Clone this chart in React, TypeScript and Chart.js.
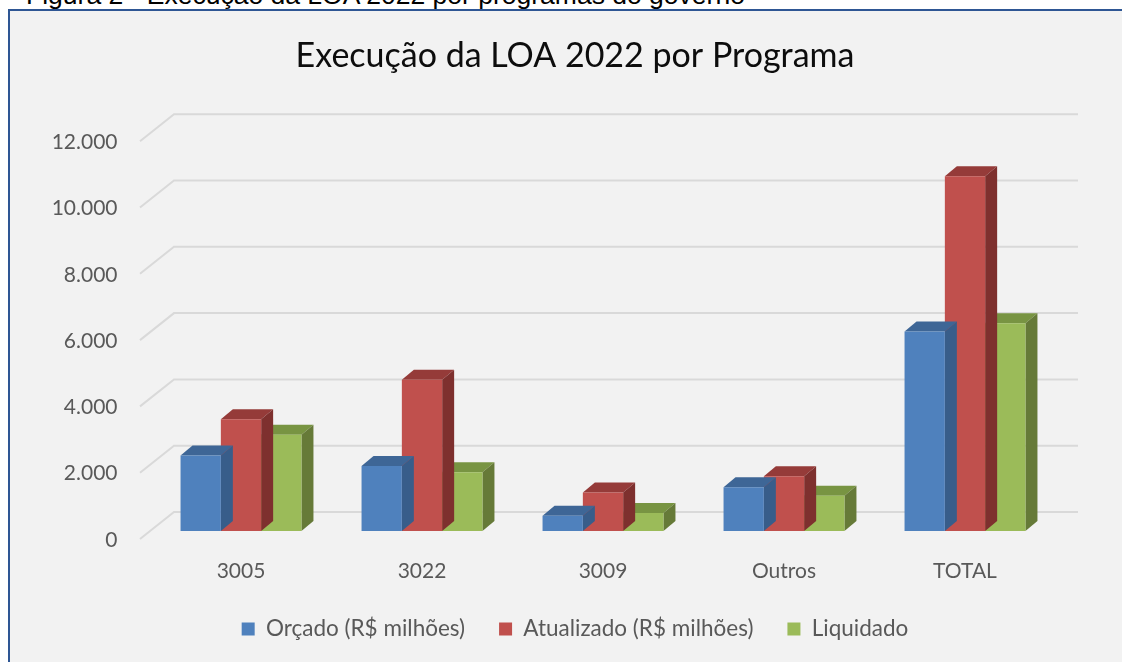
import React, { useEffect, useRef } from 'react';
import { Chart, registerables } from 'chart.js';

Chart.register(...registerables);

const categories = ['3005', '3022', '3009', 'Outros', 'TOTAL'];
const orcado = [2280, 1960, 460, 1320, 6020];
const atualizado = [3370, 4560, 1160, 1650, 10700];
const liquidado = [2900, 1770, 540, 1060, 6270];
const seriesNames = ['Orçado (R$ milhões)', 'Atualizado (R$ milhões)', 'Liquidado'];
const yTicks = [0, 2000, 4000, 6000, 8000, 10000, 12000];

const frontColors = ['#4F81BD', '#C0504D', '#9BBB59'];
const topColors = ['#3E6696', '#953B39', '#789442'];
const sideColors = ['#385D8A', '#7E302E', '#667A38'];

const DX = 12;
const DY = 10;

const fmt = (v: number) => String(v).replace(/\B(?=(\d{3})+(?!\d))/g, '.');

const threeD = {
  id: 'threeD',
  beforeDatasetsDraw(chart: any) {
    const { ctx, chartArea, scales } = chart;
    const y = scales.y;
    ctx.save();
    ctx.strokeStyle = '#D9D9D9';
    ctx.lineWidth = 2;
    for (const v of yTicks) {
      const py = y.getPixelForValue(v);
      ctx.beginPath();
      ctx.moveTo(chartArea.left - 10.5, py + 8);
      ctx.lineTo(chartArea.left + 23.5, py - 19);
      ctx.lineTo(chartArea.right + 22.5, py - 19);
      ctx.stroke();
    }
    ctx.restore();
  },
  beforeDatasetDraw(chart: any, args: any) {
    const i = args.index;
    const meta = chart.getDatasetMeta(i);
    const ctx = chart.ctx;
    ctx.save();
    meta.data.forEach((bar: any) => {
      const { x, y, base, width } = bar.getProps(['x', 'y', 'base', 'width'], true);
      const l = x - width / 2;
      const r = x + width / 2;
      ctx.fillStyle = topColors[i];
      ctx.beginPath();
      ctx.moveTo(l, y);
      ctx.lineTo(l + DX, y - DY);
      ctx.lineTo(r + DX, y - DY);
      ctx.lineTo(r, y);
      ctx.closePath();
      ctx.fill();
      ctx.fillStyle = sideColors[i];
      ctx.beginPath();
      ctx.moveTo(r, y);
      ctx.lineTo(r + DX, y - DY);
      ctx.lineTo(r + DX, base - DY);
      ctx.lineTo(r, base);
      ctx.closePath();
      ctx.fill();
    });
    ctx.restore();
  },
};

export default function App() {
  const ref = useRef<HTMLCanvasElement>(null);
  useEffect(() => {
    const font = { family: 'Lato', size: 21 };
    const chart = new Chart(ref.current as HTMLCanvasElement, {
      type: 'bar',
      data: {
        labels: categories,
        datasets: [orcado, atualizado, liquidado].map((d, i) => ({
          label: seriesNames[i],
          data: d,
          backgroundColor: frontColors[i],
          borderWidth: 0,
          categoryPercentage: 0.668,
          barPercentage: 1,
          yAxisID: 'y',
        })),
      },
      options: {
        responsive: false,
        animation: false,
        devicePixelRatio: 1,
        layout: { padding: { left: 34, right: 6, top: 10, bottom: 49.75 } },
        plugins: {
          title: {
            display: true,
            text: 'Execução da LOA 2022 por Programa',
            color: '#0D0D0D',
            font: { family: 'Lato', size: 34, weight: 'normal' },
            padding: { top: 26, bottom: 56.4 },
          },
          legend: {
            position: 'bottom',
            labels: { boxWidth: 13, boxHeight: 13, padding: 34, color: '#595959', font: { family: 'Lato', size: 22.5 } },
          },
          tooltip: { enabled: false },
        },
        scales: {
          x: {
            grid: { display: false, drawTicks: false },
            border: { display: false },
            ticks: { color: '#595959', font, padding: 28 },
            afterFit: (s: any) => { s.height = 52.75; },
          },
          y: {
            position: 'left',
            min: 0,
            max: 12000,
            grid: { display: false, drawTicks: false },
            border: { display: false },
            ticks: {
              stepSize: 2000,
              padding: 33,
              labelOffset: 9,
              color: '#595959',
              font,
              callback: (v: any) => fmt(Number(v)),
            },
            afterFit: (s: any) => { s.width = 116.5; },
          },
          y2: {
            position: 'right',
            display: true,
            grid: { display: false, drawTicks: false },
            border: { display: false },
            ticks: { display: false },
            afterFit: (s: any) => { s.width = 60.5; },
          },
        },
      } as any,
      plugins: [threeD],
    });
    return () => chart.destroy();
  }, []);
  return (
    <div style={{ position: 'fixed', left: 0, top: 0, width: 1122, height: 662, overflow: 'hidden', background: '#FFFFFF' }}>
      <div style={{ position: 'absolute', left: 26, top: -20, font: '26.5px "Liberation Sans", Arial, sans-serif', color: '#000', whiteSpace: 'nowrap', lineHeight: '31px' }}>
        Figura 2 - Execução da LOA 2022 por programas do governo
      </div>
      <div style={{ position: 'absolute', left: 8, top: 9, width: 1200, height: 800, boxSizing: 'border-box', border: '2px solid #2E5694', background: '#F2F2F2' }} />
      <canvas ref={ref} width={1122} height={700} style={{ position: 'absolute', left: 0, top: 0, width: 1122, height: 700 }} />
    </div>
  );
}
